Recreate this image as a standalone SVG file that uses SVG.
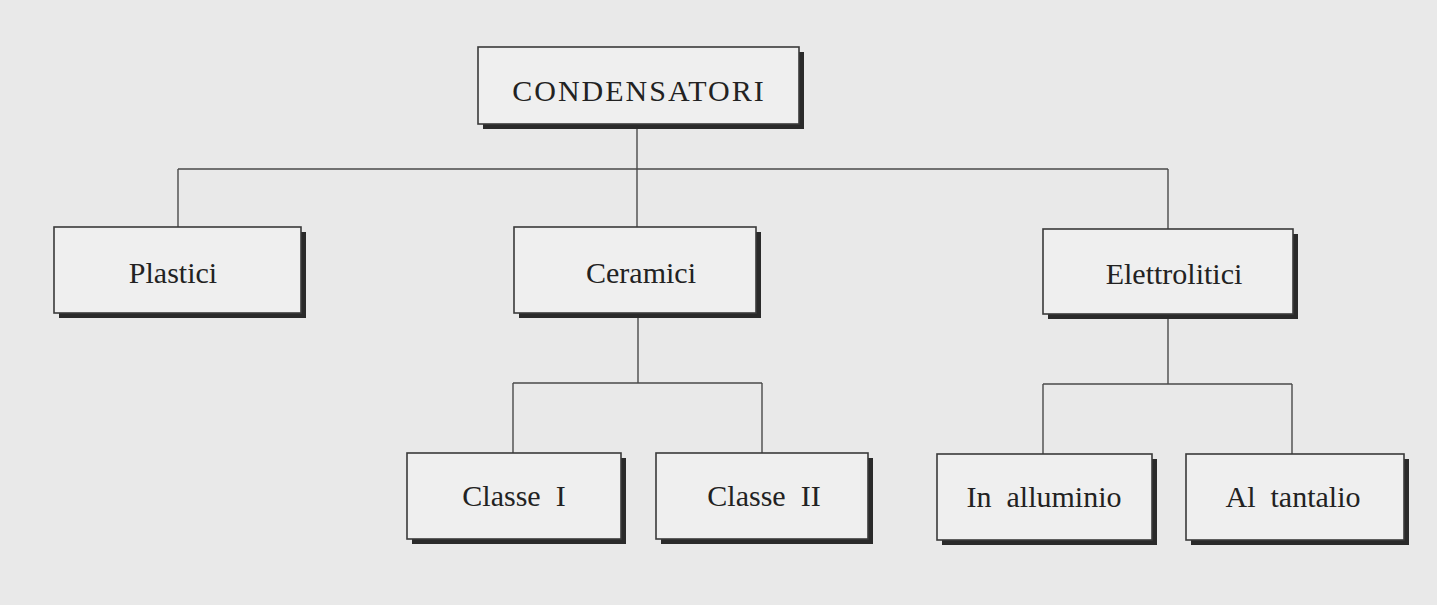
<svg xmlns="http://www.w3.org/2000/svg" width="1437" height="605" viewBox="0 0 1437 605">
<style>
.bg{fill:#e9e9e9}
.shadow{fill:#2a2a2a}
.box{fill:#efefef;stroke:#3a3a3a;stroke-width:1.6}
.lbl{font-family:"Liberation Serif","Times New Roman",serif;font-size:30px;fill:#222;text-anchor:middle}
.conn{fill:none;stroke:#4a4a4a;stroke-width:1.4}
</style>
<rect class="bg" x="0" y="0" width="1437" height="605"/>
<g id="connectors">
<path class="conn" d="M637 124 V169 M178 169 H1168 M178 169 V227 M637 169 V227 M1168 169 V229"/>
<path class="conn" d="M638 313 V383 M513 383 H762 M513 383 V453 M762 383 V453"/>
<path class="conn" d="M1168 313 V384 M1043 384 H1292 M1043 384 V454 M1292 384 V454"/>
</g>
<g id="n-condensatori">
<rect class="shadow" x="483" y="52" width="321" height="77"/>
<rect class="box" x="478" y="47" width="321" height="77"/>
<text class="lbl" x="639" y="101" font-size="32" letter-spacing="2">CONDENSATORI</text>
</g>
<g id="n-plastici">
<rect class="shadow" x="59" y="232" width="247" height="86"/>
<rect class="box" x="54" y="227" width="247" height="86"/>
<text class="lbl" x="173" y="283">Plastici</text>
</g>
<g id="n-ceramici">
<rect class="shadow" x="519" y="232" width="242" height="86"/>
<rect class="box" x="514" y="227" width="242" height="86"/>
<text class="lbl" x="641" y="283">Ceramici</text>
</g>
<g id="n-elettrolitici">
<rect class="shadow" x="1048" y="234" width="250" height="85"/>
<rect class="box" x="1043" y="229" width="250" height="85"/>
<text class="lbl" x="1174" y="284">Elettrolitici</text>
</g>
<g id="n-classe1">
<rect class="shadow" x="412" y="458" width="214" height="86"/>
<rect class="box" x="407" y="453" width="214" height="86"/>
<text class="lbl" x="514" y="506" xml:space="preserve">Classe  I</text>
</g>
<g id="n-classe2">
<rect class="shadow" x="661" y="458" width="212" height="86"/>
<rect class="box" x="656" y="453" width="212" height="86"/>
<text class="lbl" x="764" y="506" xml:space="preserve">Classe  II</text>
</g>
<g id="n-alluminio">
<rect class="shadow" x="942" y="459" width="215" height="86"/>
<rect class="box" x="937" y="454" width="215" height="86"/>
<text class="lbl" x="1044" y="507" xml:space="preserve">In  alluminio</text>
</g>
<g id="n-tantalio">
<rect class="shadow" x="1191" y="459" width="218" height="86"/>
<rect class="box" x="1186" y="454" width="218" height="86"/>
<text class="lbl" x="1293" y="507" xml:space="preserve">Al  tantalio</text>
</g>
</svg>
